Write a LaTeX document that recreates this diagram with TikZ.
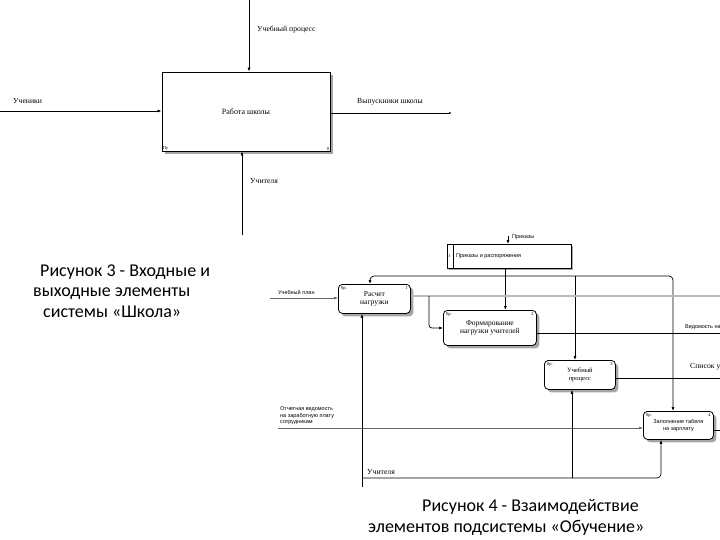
\documentclass[tikz,border=0pt]{standalone}
\usepackage{fontspec}
\setmainfont{Liberation Serif}
\newfontfamily\capfont{Carlito}
\newfontfamily\lblfont{Liberation Sans}
\usetikzlibrary{arrows.meta,shadows}
\begin{document}
\begin{tikzpicture}[x=1pt,y=-1pt,
  arr/.style={-{Latex[length=4pt,width=3pt]}, line width=0.7pt},
  ln/.style={line width=0.7pt},
  bigbox/.style={draw, line width=0.8pt, fill=white, drop shadow={shadow xshift=3pt, shadow yshift=-3pt, fill=gray!70, opacity=1}, font=\fontsize{8}{9}\selectfont},
  rbox/.style={draw, line width=0.8pt, rounded corners=4pt, fill=white, align=center, drop shadow={shadow xshift=3pt, shadow yshift=-3pt, fill=gray!70, opacity=1}},
  lbl/.style={font=\fontsize{7.7}{8.5}\selectfont, inner sep=1pt},
  slbl/.style={font=\lblfont\fontsize{5.5}{6.5}\selectfont, inner sep=1pt, align=left},
  corner/.style={font=\fontsize{4.5}{5}\selectfont, inner sep=1pt},
  captxt/.style={font=\capfont\fontsize{18}{20}\selectfont, inner sep=0pt, anchor=base west}
]
\useasboundingbox (0,0) rectangle (720,540);
\clip (0,0) rectangle (720,540);

% ---------- Diagram 1 ----------
\node[bigbox, minimum width=168pt, minimum height=79pt] (school) at (246,111.5) {Работа школы};
\node[corner, anchor=south west] at (school.south west) {Пу};
\node[corner, anchor=south east] at (school.south east) {0};
\coordinate (t1) at (249,0);
\coordinate (l1) at (0,111);
\coordinate (r1) at (452,113);
\coordinate (b1) at (242,235);
\draw[arr] (t1) -- (t1 |- school.north);
\draw[arr] (l1) -- (l1 -| school.west);
\draw[ln, -{Latex[length=3pt,width=2pt]}] (school.east |- r1) -- (r1);
\draw[arr] (b1) -- (b1 |- school.south);
\node[lbl, anchor=west] (lt1) at (256,30) {Учебный процесс};
\node[lbl, anchor=west] (ll1) at (12,101) {Ученики};
\node[lbl, anchor=west] (lr1) at (356,102) {Выпускники школы};
\node[lbl, anchor=west] (lb1) at (249,181) {Учителя};

% ---------- Caption 1 ----------
\node[captxt] (c1a) at (40,276) {Рисунок 3 - Входные и};
\node[captxt] (c1b) at (33,296) {выходные элементы};
\node[captxt] (c1c) at (43,317) {системы «Школа»};

% ---------- Diagram 2 ----------
% tunnel box
\node[draw, line width=0.7pt, fill=white, minimum width=124pt, minimum height=24pt, anchor=north west,
  drop shadow={shadow xshift=2pt, shadow yshift=-2pt, fill=gray!70, opacity=1}] (prik) at (447,244) {};
\draw[line width=0.5pt] (prik.north west) ++(6,0) -- ++(0,24);
\node[corner, anchor=west] at ([xshift=0pt]prik.west) {1};
\node[slbl, anchor=west] at ([xshift=8pt]prik.west) {Приказы и распоряжения};
\coordinate (pt) at (508,236);
\draw[arr] (pt) -- (pt |- prik.north);
\node[slbl, anchor=south west] at (511,241) {Приказы};

% activity boxes
\node[rbox, minimum width=72pt, minimum height=29pt, anchor=north west, font=\fontsize{7.5}{8.5}\selectfont] (rasch) at (338,284) {Расчет\\нагрузки};
\node[rbox, minimum width=93pt, minimum height=35pt, anchor=north west, font=\fontsize{7.5}{8.5}\selectfont] (form) at (443,310) {Формирование\\нагрузки учителей};
\node[rbox, minimum width=71pt, minimum height=29pt, anchor=north west, font=\fontsize{6.5}{7.5}\selectfont] (ucheb) at (544,360) {Учебный\\процесс};
\node[rbox, minimum width=70pt, minimum height=28pt, anchor=north west, font=\lblfont\fontsize{5.5}{6.5}\selectfont] (tab) at (643,411) {Заполнение табеля\\на зарплату};
\foreach \b/\n in {rasch/1,form/2,ucheb/3,tab/4}{
  \node[corner, anchor=north west] at ([shift={(2pt,-1pt)}]\b.north west) {0р.};
  \node[corner, anchor=north east] at ([shift={(-2pt,-1pt)}]\b.north east) {\n};
}

% control from Приказы
\coordinate (ctl) at (505,276);
\coordinate (jl) at (370,276);
\coordinate (jm) at (575,276);
\coordinate (jr) at (673,276);
\draw[arr] ([xshift=-4pt]prik.south) -- ([xshift=-4pt]prik.south |- form.north);
\draw[arr, rounded corners=4pt] (ctl) -- (jl) -- (jl |- rasch.north);
\draw[arr, rounded corners=4pt] (ctl) -- (jr) -- (jr |- tab.north);
\draw[arr] (jm) -- (jm |- ucheb.north);

% input Учебный план
\coordinate (up) at (270,298);
\draw[arr, gray!80!black, line width=0.6pt] (up) -- (up -| rasch.west);
\node[slbl, anchor=south west] at (277,296) {Учебный план};

% output of Расчет (gray double)
\coordinate (ro) at (720,296);
\draw[gray!55, line width=1.6pt] (rasch.east |- ro) -- (ro);
\coordinate (br) at (429,296);
\coordinate (bf) at (429,328);
\draw[arr, rounded corners=3pt] (br) -- (bf) -- (bf -| form.west);

% output of Формирование
\coordinate (fo) at (720,333);
\draw[ln] (form.east |- fo) -- (fo);
\node[slbl, anchor=south west] at (684,331) {Ведомость на};

% output of Учебный процесс
\coordinate (uo) at (720,378);
\draw[ln] (ucheb.east |- uo) -- (uo);
\node[lbl, anchor=south west] at (689,371) {Список у};

% output of Заполнение
\coordinate (to) at (720,430);
\draw[ln] (tab.east |- to) -- (to);

% input Отчетная ведомость
\coordinate (ov) at (278,428);
\draw[arr, gray!80!black, line width=0.6pt] (ov) -- (ov -| tab.west);
\node[slbl, anchor=south west] at (279,426) {Отчетная ведомость\\на заработную плату\\сотрудникам};

% mechanism Учителя
\coordinate (mb) at (362,487);
\coordinate (mh) at (362,478);
\coordinate (mm) at (572,478);
\coordinate (mr) at (661,478);
\draw[arr] (mb) -- (mb |- rasch.south);
\draw[arr, rounded corners=4pt] (mh) -- (mr) -- (mr |- tab.south);
\draw[arr] (mm) -- (mm |- ucheb.south);
\node[lbl, anchor=south west] at (366,476) {Учителя};

% ---------- Caption 2 ----------
\node[captxt] (c2a) at (422,511) {Рисунок 4 - Взаимодействие};
\node[captxt] (c2b) at (368,532) {элементов подсистемы «Обучение»};
\end{tikzpicture}
\end{document}
